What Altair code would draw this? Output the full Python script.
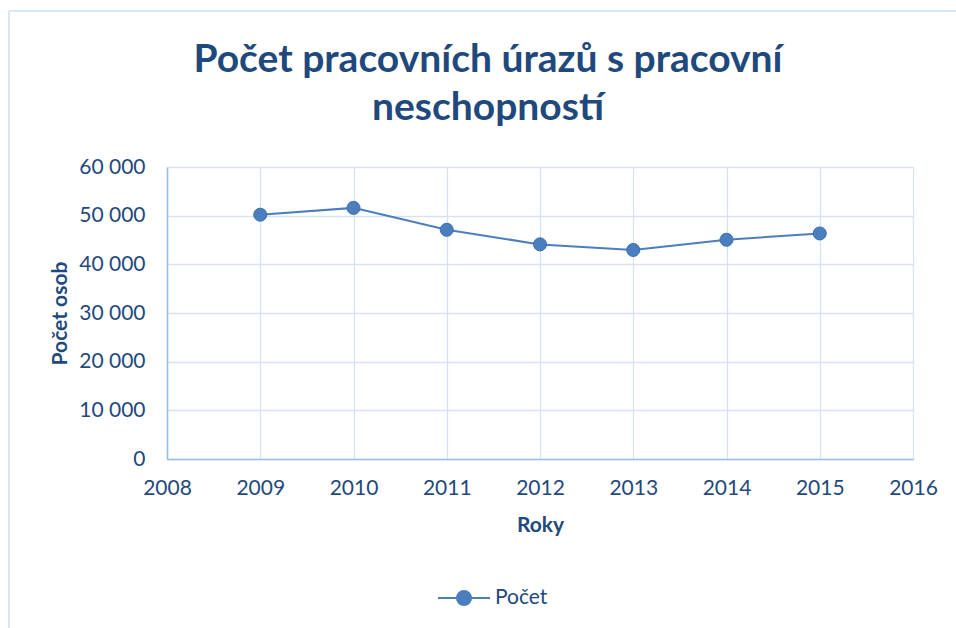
import altair as alt
import pandas as pd

years = [2009, 2010, 2011, 2012, 2013, 2014, 2015]
counts = [50200, 51600, 47100, 44100, 42950, 45050, 46350]
series = ["Počet"] * len(years)

df = pd.DataFrame({"Roky": years, "Počet osob": counts, "serie": series})

TXT = "#1F497D"
LINE = "#4A7EBF"
GRID = "#D6E2F3"
AXIS = "#9CBDE6"
BORDER = "#D9E5F7"
FONT = "Lato"

legend_path = ("M-1,0H-0.27M0.27,0H1"
               "M-0.27,0A0.27,0.27 0 1,0 0.27,0A0.27,0.27 0 1,0 -0.27,0Z")

x = alt.X("Roky:Q",
          scale=alt.Scale(domain=[2008, 2016], nice=False, zero=False),
          axis=alt.Axis(values=list(range(2008, 2017)), format="d",
                        title="Roky", tickSize=0, labelPadding=18,
                        titlePadding=16, labelFlush=False))
y = alt.Y("Počet osob:Q",
          scale=alt.Scale(domain=[0, 60000], nice=False),
          axis=alt.Axis(values=list(range(0, 60001, 10000)),
                        labelExpr="replace(format(datum.value, ','), ',', ' ')",
                        title="Počet osob", tickSize=0, labelPadding=22,
                        titlePadding=8))
color = alt.Color("serie:N",
                  scale=alt.Scale(range=[LINE]),
                  legend=alt.Legend(title=None, orient="none",
                                    legendX=270, legendY=404,
                                    symbolType=legend_path, symbolSize=2700,
                                    symbolStrokeWidth=2, symbolFillColor=LINE,
                                    symbolStrokeColor=LINE,
                                    labelFontSize=21, labelColor=TXT,
                                    labelFont=FONT, labelOffset=4))

base = alt.Chart(df).encode(x=x, y=y, color=color)
line = base.mark_line(strokeWidth=2)
pts = base.mark_point(filled=True, size=170, opacity=1,
                      stroke="#3D6DAE", strokeWidth=1)

# chart-area frame (decoration only)
frame_left = alt.Chart(df).mark_rule(color=BORDER, strokeWidth=2).encode(
    x=alt.value(-158), y=alt.value(-156), y2=alt.value(480))
frame_top = alt.Chart(df).mark_rule(color=BORDER, strokeWidth=2).encode(
    x=alt.value(-158), x2=alt.value(820), y=alt.value(-156))

chart = (frame_left + frame_top + line + pts).properties(
    width=746, height=292,
    padding={"left": 167, "top": 167, "right": 43, "bottom": 169},
    autosize=alt.AutoSizeParams(type="none"),
    title=alt.TitleParams(
        text=["Počet pracovních úrazů s pracovní", "neschopností"],
        font=FONT, fontSize=39, fontWeight="bold", color=TXT,
        anchor="middle", dx=-52, offset=-118, lineHeight=48),
    background="white",
).configure_view(stroke=None).configure_axis(
    domainColor=AXIS, gridColor=GRID, gridWidth=1.3, domainWidth=1.5,
    labelFont=FONT, labelFontSize=21, labelColor=TXT,
    titleFont=FONT, titleFontSize=21, titleColor=TXT, titleFontWeight="bold",
)

chart.save("out.html", embed_options={"renderer": "svg", "actions": False})
